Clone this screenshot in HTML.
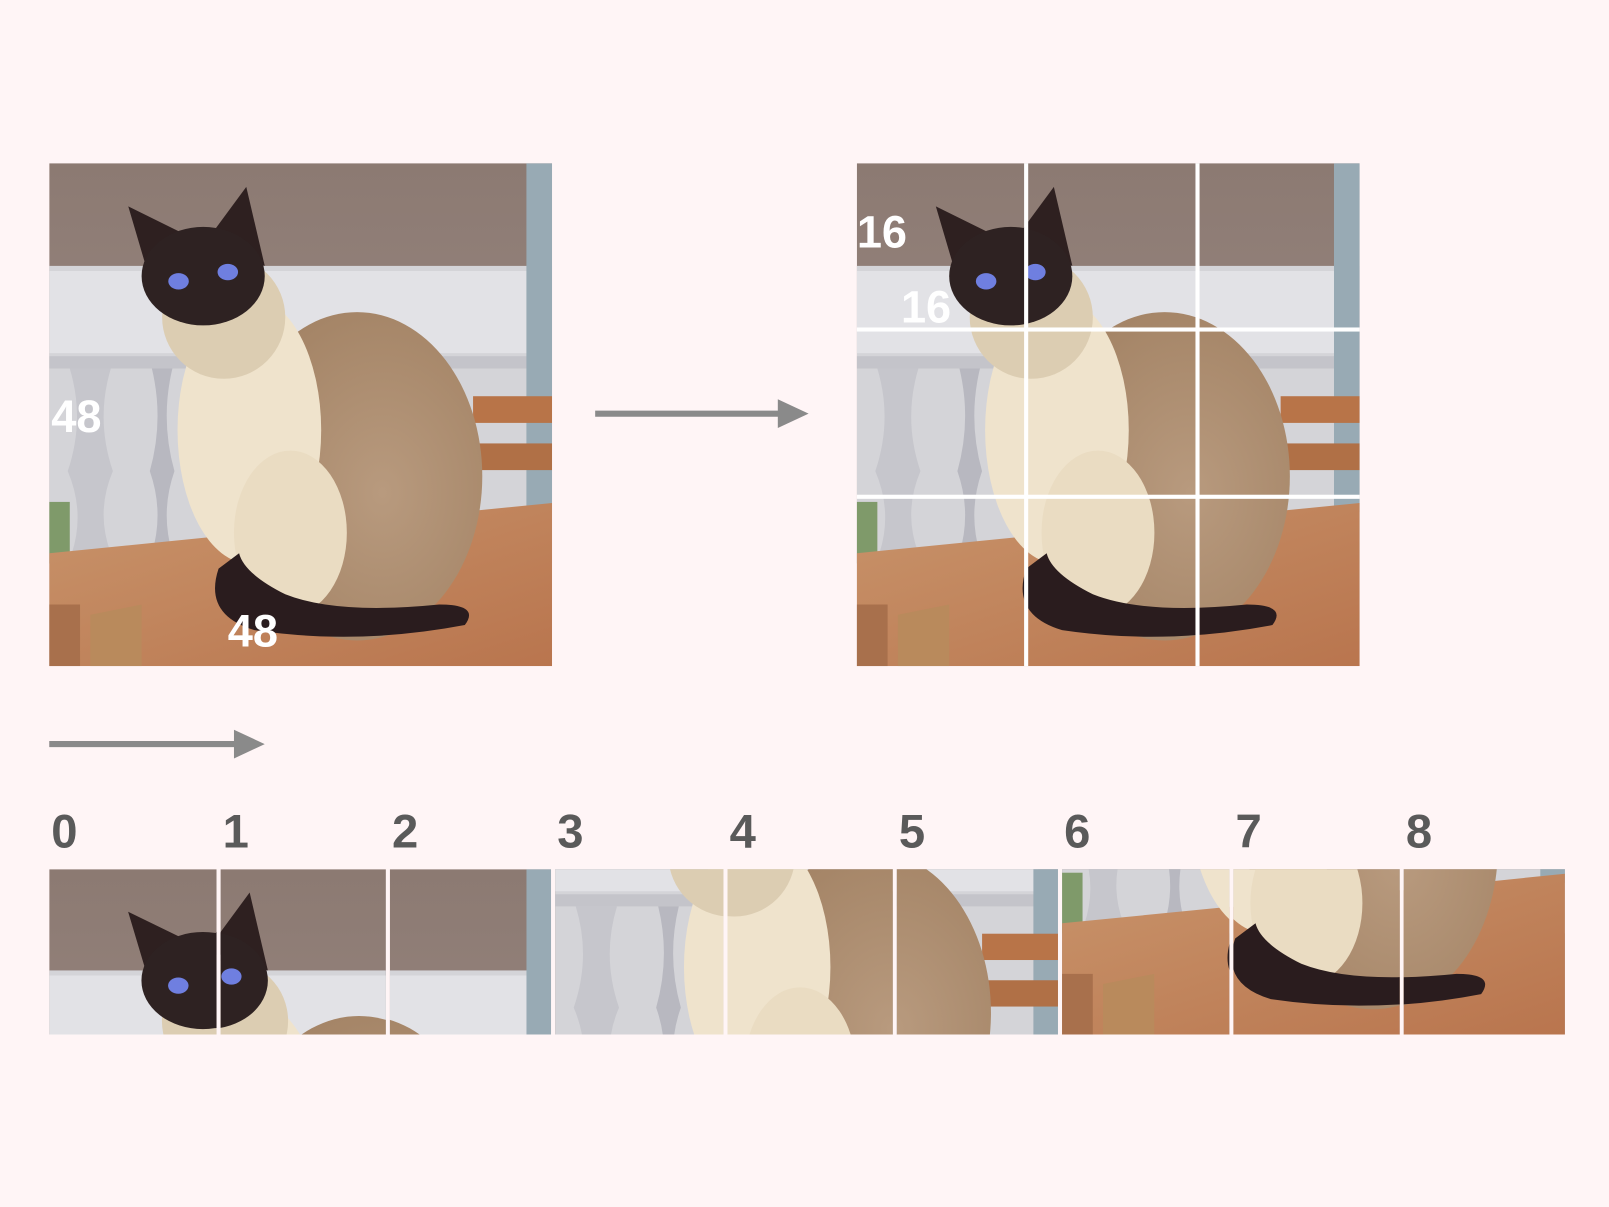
<!DOCTYPE html>
<html><head><meta charset="utf-8"><style>
html,body{margin:0;padding:0;background:#fff5f6;overflow:hidden;width:1609px;height:1207px;}
svg{display:block;}
text{font-family:"Liberation Sans",sans-serif;font-weight:bold;}
</style></head><body>
<svg width="1609" height="1207" viewBox="0 0 1568 1176">
<defs>
<linearGradient id="bgTop" x1="0" y1="0" x2="0" y2="1">
<stop offset="0" stop-color="#8c7a72"/><stop offset="1" stop-color="#a08f8c"/></linearGradient>
<radialGradient id="body" cx="0.6" cy="0.55" r="0.6">
<stop offset="0" stop-color="#b89a7e"/><stop offset="1" stop-color="#a48466"/></radialGradient>
<linearGradient id="table" x1="0" y1="0" x2="1" y2="1">
<stop offset="0" stop-color="#c8936a"/><stop offset="1" stop-color="#b9754e"/></linearGradient>
<g id="scene">
<rect x="0" y="0" width="490" height="490" fill="url(#bgTop)"/>
<rect x="0" y="100" width="490" height="290" fill="#d4d4d8"/>
<rect x="0" y="105" width="470" height="80" fill="#e2e2e6"/>
<rect x="0" y="188" width="470" height="12" fill="#c4c4ca"/>
<path d="M20 200 Q35 250 18 300 Q35 340 22 380 L60 380 Q45 340 62 300 Q45 250 60 200 Z" fill="#c6c6cc"/>
<path d="M100 200 Q112 250 98 300 Q112 340 100 380 L120 380 Q108 340 122 300 Q108 250 120 200 Z" fill="#b8b8c0"/>
<rect x="0" y="330" width="20" height="60" fill="#7f9a6a"/>
<rect x="465" y="0" width="25" height="340" fill="#98aab4"/>
<rect x="413" y="227" width="77" height="26" fill="#b87448"/>
<rect x="413" y="273" width="77" height="26" fill="#b07046"/>
<polygon points="0,380 490,331 490,490 0,490" fill="url(#table)"/>
<polygon points="0,430 30,430 30,490 0,490" fill="#a8704c"/>
<polygon points="40,440 90,430 90,490 40,490" fill="#b98a5c"/>
<ellipse cx="300" cy="305" rx="122" ry="160" fill="url(#body)"/>
<ellipse cx="195" cy="260" rx="70" ry="130" fill="#efe3cc"/>
<ellipse cx="235" cy="360" rx="55" ry="80" fill="#eadcc2"/>
<path d="M165 395 Q150 440 200 455 Q300 470 405 450 Q420 430 380 430 Q280 440 230 420 Q190 400 185 380 Z" fill="#2a1c1e"/>
<ellipse cx="170" cy="150" rx="60" ry="60" fill="#dccdb2"/>
<polygon points="77,42 150,78 100,120" fill="#2e2020"/>
<polygon points="192,23 210,100 150,80" fill="#2e2020"/>
<ellipse cx="150" cy="110" rx="60" ry="48" fill="#2e2222"/>
<ellipse cx="126" cy="115" rx="10" ry="8" fill="#6f7fe0"/>
<ellipse cx="174" cy="106" rx="10" ry="8" fill="#6f7fe0"/>
</g>
</defs>

<g>
<svg x="48" y="159" width="490" height="490" viewBox="0 0 490 490"><use href="#scene"/></svg>
<text x="50" y="421" font-size="44" fill="#fff">48</text>
<text x="222" y="630" font-size="44" fill="#fff">48</text>
</g>

<g>
<line x1="580" y1="403" x2="762" y2="403" stroke="#8a8a8a" stroke-width="6"/>
<polygon points="758,389 788,403 758,417" fill="#8a8a8a"/>
</g>

<g>
<svg x="835" y="159" width="490" height="490" viewBox="0 0 490 490"><use href="#scene"/></svg>
<rect x="998" y="159" width="4" height="490" fill="#fff"/>
<rect x="1165" y="159" width="4" height="490" fill="#fff"/>
<rect x="835" y="319" width="490" height="4" fill="#fff"/>
<rect x="835" y="482" width="490" height="4" fill="#fff"/>
<text x="835" y="241" font-size="44" fill="#fff">16</text>
<text x="878" y="314" font-size="44" fill="#fff">16</text>
</g>

<g>
<line x1="48" y1="725" x2="232" y2="725" stroke="#8a8a8a" stroke-width="6"/>
<polygon points="228,711 258,725 228,739" fill="#8a8a8a"/>
</g>

<g id="strip"></g>
</svg>
<script>
const patchIdx=[0,1,2,3,4,5,6,7,8];
const patchX=[48,215,380,541,709,874,1035,1202,1368,1529];
const ns="http://www.w3.org/2000/svg";
const strip=document.getElementById('strip');
patchIdx.forEach((k,i)=>{
  const r=Math.floor(k/3), c=k%3;
  const s=document.createElementNS(ns,'svg');
  s.setAttribute('x',patchX[i]);s.setAttribute('y',847);
  s.setAttribute('width',patchX[i+1]-patchX[i]-4);s.setAttribute('height',161);
  s.setAttribute('viewBox',(c*163.3)+' '+(r*163.3)+' 163.3 163.3');
  s.setAttribute('preserveAspectRatio','none');
  
  
  const u=document.createElementNS(ns,'use');u.setAttribute('href','#scene');
  s.appendChild(u);strip.appendChild(s);
  const t=document.createElementNS(ns,'text');
  t.setAttribute('x',patchX[i]+2);t.setAttribute('y',826);
  t.setAttribute('font-size','46');t.setAttribute('fill','#5a5a5a');
  
  
  t.textContent=k;strip.appendChild(t);
});
</script>
</body></html>
